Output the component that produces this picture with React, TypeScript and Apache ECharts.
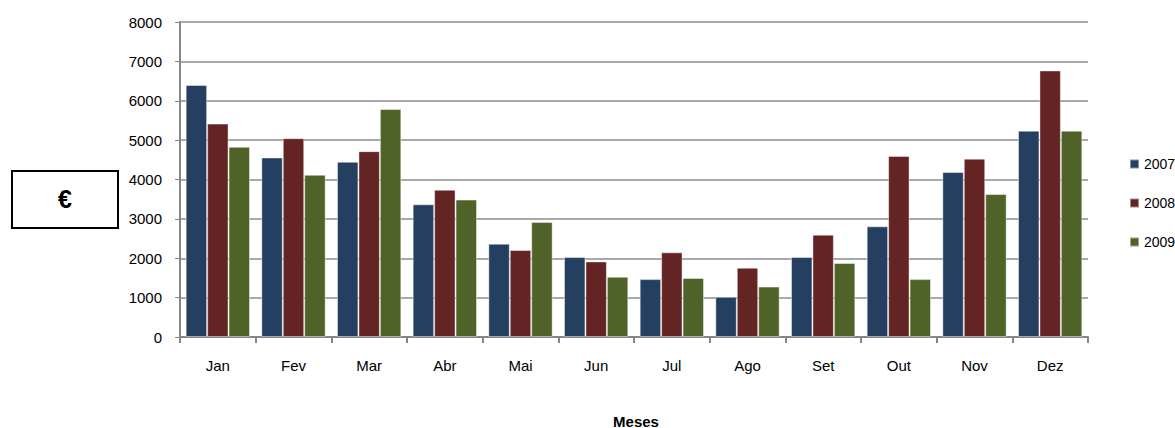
import React, { useEffect, useRef } from "react";
import * as echarts from "echarts";

const months = ["Jan", "Fev", "Mar", "Abr", "Mai", "Jun", "Jul", "Ago", "Set", "Out", "Nov", "Dez"];
const v2007 = [6400, 4560, 4450, 3370, 2370, 2030, 1470, 1020, 2030, 2810, 4190, 5240];
const v2008 = [5420, 5050, 4720, 3740, 2210, 1920, 2150, 1760, 2600, 4600, 4530, 6770];
const v2009 = [4830, 4120, 5790, 3490, 2920, 1530, 1500, 1280, 1880, 1470, 3630, 5240];
const seriesNames = ["2007", "2008", "2009"];
const colors = ["#243F60", "#632423", "#4F6228"];

const FONT = "'Liberation Sans', Arial, sans-serif";

export default function App() {
  const ref = useRef<HTMLDivElement>(null);
  useEffect(() => {
    if (!ref.current) return;
    const chart = echarts.init(ref.current, undefined, { renderer: "svg" });
    const data = [v2007, v2008, v2009];
    chart.setOption({
      animation: false,
      backgroundColor: "#ffffff",
      textStyle: { fontFamily: FONT },
      grid: { left: 180, right: 87, top: 22, bottom: 91, containLabel: false },
      legend: {
        orient: "vertical",
        left: 1124,
        top: 152,
        itemWidth: 9,
        itemHeight: 9,
        itemGap: 25,
        icon: "rect",
        textStyle: { fontFamily: FONT, fontSize: 14, color: "#000" },
        data: seriesNames,
      },
      xAxis: {
        type: "category",
        data: months,
        axisLine: { lineStyle: { color: "#868686", width: 2 } },
        axisTick: { show: true, length: 6, lineStyle: { color: "#868686", width: 2 } },
        axisLabel: { color: "#000", fontSize: 15, margin: 21, fontFamily: FONT },
      },
      yAxis: {
        type: "value",
        min: 0,
        max: 8000,
        interval: 1000,
        axisLine: { show: true, lineStyle: { color: "#868686", width: 2 } },
        axisTick: { show: true, length: 5, lineStyle: { color: "#868686", width: 1 } },
        axisLabel: {
          color: "#000",
          fontSize: 15,
          margin: 18,
          fontFamily: FONT,
          formatter: (v: number) => String(v),
        },
        splitLine: { lineStyle: { color: "#8c8c8c", width: 1.5 } },
      },
      series: seriesNames.map((n, i) => ({
        name: n,
        type: "bar",
        data: data[i],
        barGap: "0%",
        barCategoryGap: "15%",
        itemStyle: { color: colors[i], borderColor: "rgba(255,255,255,0.45)", borderWidth: 1 },
      })),
      graphic: [
        {
          type: "rect",
          shape: { x: 12, y: 171, width: 106, height: 57 },
          style: { fill: "#fff", stroke: "#000", lineWidth: 2 },
        },
        {
          type: "text",
          x: 65,
          y: 199,
          style: {
            text: "€",
            font: `bold 25px ${FONT}`,
            fill: "#000",
            textAlign: "center",
            textVerticalAlign: "middle",
          },
        },
        {
          type: "text",
          x: 636,
          y: 421,
          style: {
            text: "Meses",
            font: `bold 15px ${FONT}`,
            fill: "#000",
            textAlign: "center",
            textVerticalAlign: "middle",
          },
        },
      ],
    });
    return () => chart.dispose();
  }, []);
  return (
    <div
      ref={ref}
      style={{ position: "fixed", left: 0, top: 0, width: 1175, height: 428 }}
    />
  );
}
